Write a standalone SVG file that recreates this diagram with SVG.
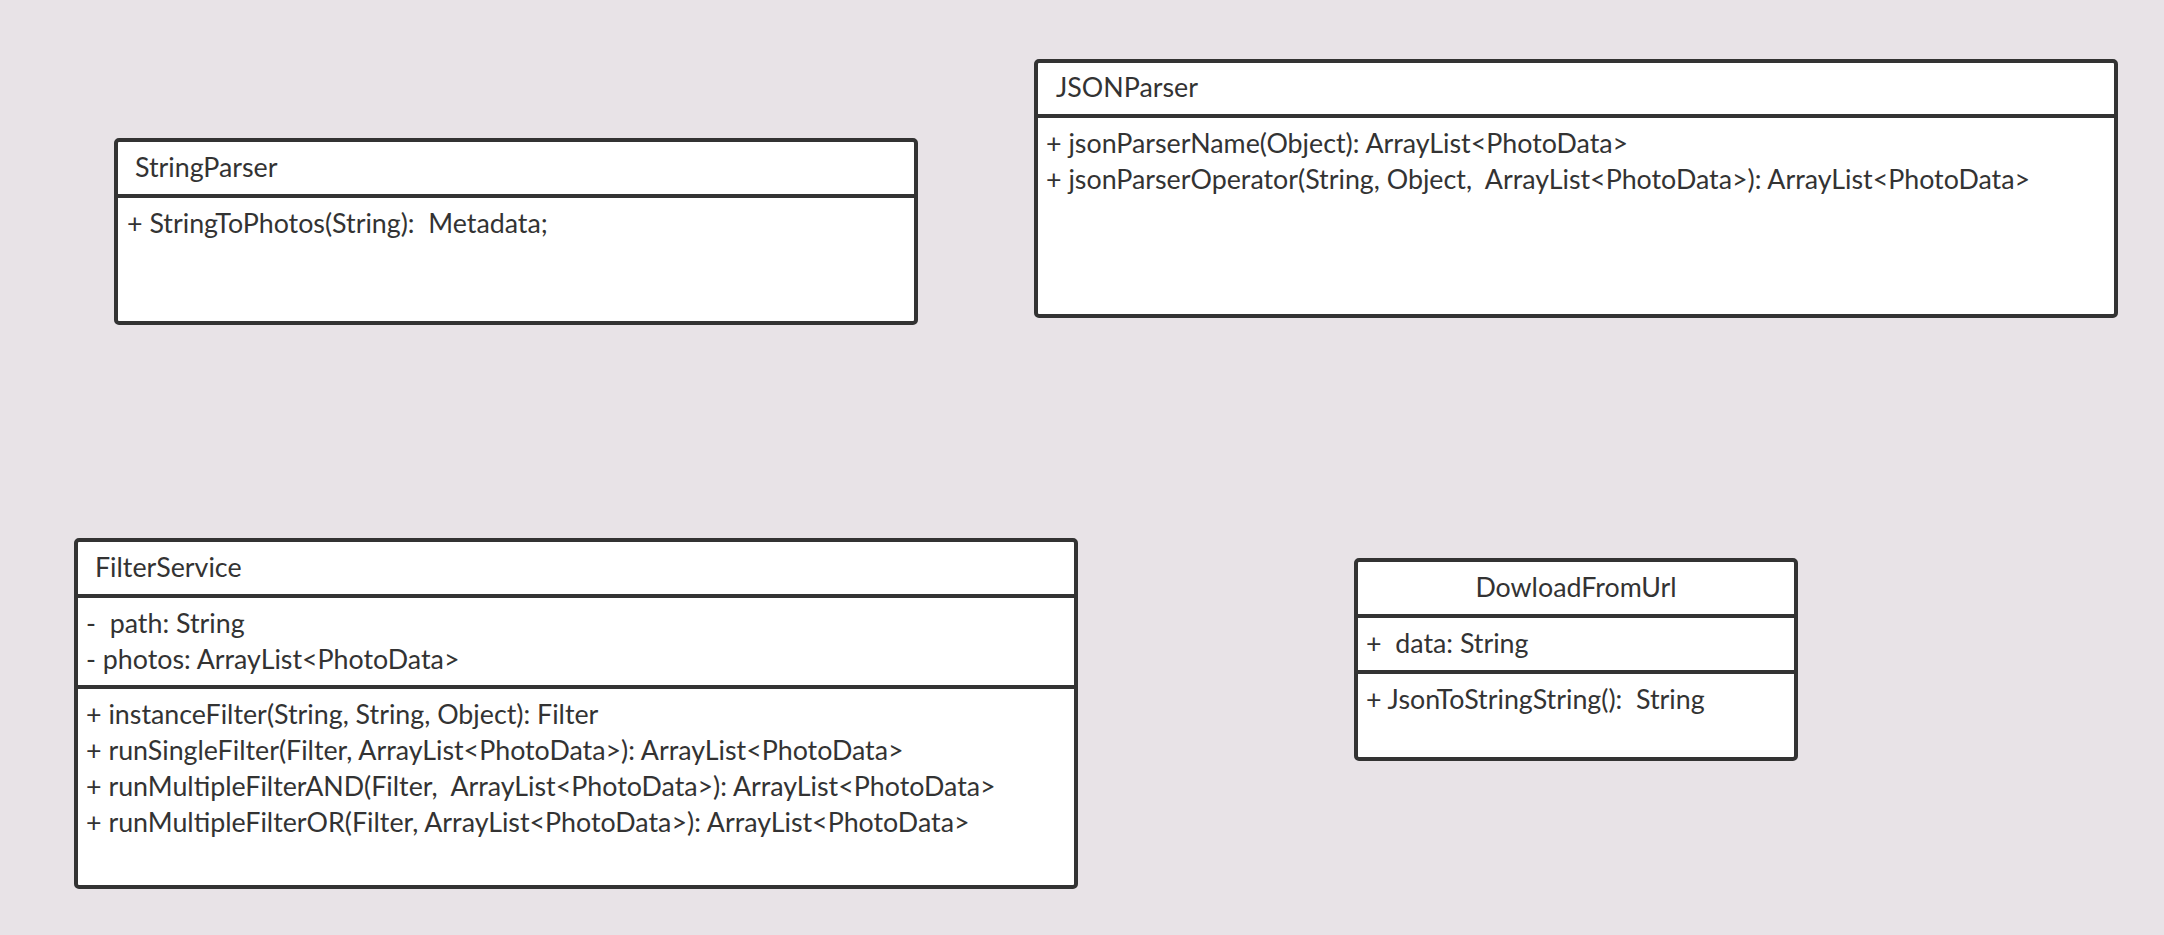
<svg xmlns="http://www.w3.org/2000/svg" width="2164" height="935" viewBox="0 0 2164 935">
<style>
.bg{fill:#e8e3e7}
.box{fill:#ffffff;stroke:#333333;stroke-width:4}
.div{stroke:#333333;stroke-width:4}
text{font-family:Lato,"Liberation Sans",sans-serif;font-size:26.8px;fill:#333333;white-space:pre}
.c{text-anchor:middle}
</style>
<rect class="bg" x="0" y="0" width="2164" height="935"/>
<g id="connectors"></g>
<g id="StringParser">
<rect class="box" x="116" y="140" width="800" height="183" rx="3"/>
<line class="div" x1="116" y1="196" x2="916" y2="196"/>
<text x="135" y="177">StringParser</text>
<text x="127" y="233">+ StringToPhotos(String):  Metadata;</text>
</g>
<g id="JSONParser">
<rect class="box" x="1036" y="61" width="1080" height="255" rx="3"/>
<line class="div" x1="1036" y1="116" x2="2116" y2="116"/>
<text x="1056" y="97">JSONParser</text>
<text x="1046" y="153">+ jsonParserName(Object): ArrayList&lt;PhotoData&gt;</text>
<text x="1046" y="189">+ jsonParserOperator(String, Object,  ArrayList&lt;PhotoData&gt;): ArrayList&lt;PhotoData&gt;</text>
</g>
<g id="FilterService">
<rect class="box" x="76" y="540" width="1000" height="347" rx="3"/>
<line class="div" x1="76" y1="596" x2="1076" y2="596"/>
<line class="div" x1="76" y1="687" x2="1076" y2="687"/>
<text x="95" y="577">FilterService</text>
<text x="86" y="633">-  path: String</text>
<text x="86" y="669">- photos: ArrayList&lt;PhotoData&gt;</text>
<text x="86" y="724">+ instanceFilter(String, String, Object): Filter</text>
<text x="86" y="760">+ runSingleFilter(Filter, ArrayList&lt;PhotoData&gt;): ArrayList&lt;PhotoData&gt;</text>
<text x="86" y="796">+ runMultipleFilterAND(Filter,  ArrayList&lt;PhotoData&gt;): ArrayList&lt;PhotoData&gt;</text>
<text x="86" y="832">+ runMultipleFilterOR(Filter, ArrayList&lt;PhotoData&gt;): ArrayList&lt;PhotoData&gt;</text>
</g>
<g id="DowloadFromUrl">
<rect class="box" x="1356" y="560" width="440" height="199" rx="3"/>
<line class="div" x1="1356" y1="616" x2="1796" y2="616"/>
<line class="div" x1="1356" y1="672" x2="1796" y2="672"/>
<text class="c" x="1576" y="597">DowloadFromUrl</text>
<text x="1366" y="653">+  data: String</text>
<text x="1366" y="709">+ JsonToStringString():  String</text>
</g>
</svg>
